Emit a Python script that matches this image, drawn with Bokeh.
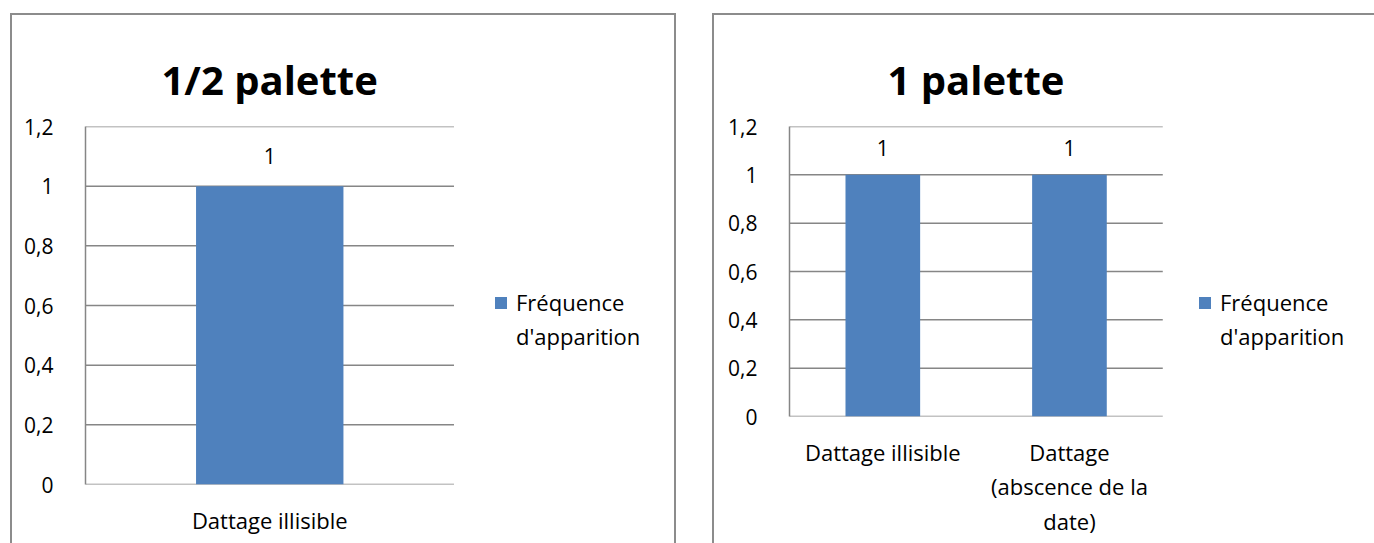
from bokeh.plotting import figure
from bokeh.layouts import row, column
from bokeh.models import (Range1d, FixedTicker, CustomJSTickFormatter,
                          Legend, LegendItem, ColumnDataSource)
from bokeh.embed import file_html
from bokeh.resources import INLINE
from bokeh.core.properties import value

# ---- data ----
title_left = "1/2 palette"
cats_left = ["Dattage illisible"]
vals_left = [1]

title_right = "1 palette"
cats_right = ["Dattage illisible", "Dattage\n(abscence de la\ndate)"]
vals_right = [1, 1]

legend_lines = ["Fréquence", "d'apparition"]
y_ticks = [0, 0.2, 0.4, 0.6, 0.8, 1, 1.2]

BAR = "#4F81BD"
GRID = "#868686"
BORDER = "#8C8C8C"
FONT = "Open Sans"


def make_chart(title, cats, vals, width, height, borders, margin, css,
               plot_px, title_off, label_off, legend_loc):
    bl, br, bt, bb = borders
    n = len(cats)
    frame_w = width - bl - br - 2 * (len(css) - 1)
    # categorical slots on a numeric axis; extra room on the right holds the legend
    x_end = -0.5 + n * frame_w / plot_px
    p = figure(x_range=Range1d(-0.5, x_end), y_range=Range1d(0, 1.2),
               width=width, height=height, output_backend="svg",
               toolbar_location=None, margin=margin,
               min_border_left=bl, min_border_right=br,
               min_border_top=bt, min_border_bottom=bb,
               styles=css)
    p.title.text = title
    p.title.align = "left"
    p.title.offset = title_off
    p.title.text_font = FONT
    p.title.text_font_size = "40px"
    p.title.text_font_style = "bold"
    p.title.text_color = "#000000"
    p.title.standoff = 39
    p.outline_line_color = None
    p.background_fill_color = "white"
    p.border_fill_color = "white"
    p.xgrid.grid_line_color = None
    p.ygrid.grid_line_color = None

    idx = list(range(n))
    # horizontal gridlines across the category area only
    p.segment(x0=[-0.5] * len(y_ticks), x1=[n - 0.5] * len(y_ticks),
              y0=y_ticks, y1=y_ticks, line_color=GRID, line_width=1.5,
              level="underlay")

    src = ColumnDataSource(dict(x=idx, val=vals, lab=[str(v) for v in vals]))
    r = p.vbar(x="x", top="val", width=0.4, source=src, fill_color=BAR,
               line_color=None)
    p.text(x="x", y="val", text="lab", source=src, text_align="center",
           text_baseline="middle", y_offset=label_off,
           text_font=value(FONT), text_font_size="21px", text_color="#000000")
    dummy = p.vbar(x=[], top=[], width=0.4, fill_alpha=0, line_alpha=0)

    # axes
    p.yaxis.ticker = FixedTicker(ticks=y_ticks)
    p.yaxis.formatter = CustomJSTickFormatter(
        code="return tick.toFixed(1).replace(/\\.0$/, '').replace('.', ',');")
    p.xaxis.ticker = FixedTicker(ticks=idx)
    p.xaxis.major_label_overrides = {i: c for i, c in zip(idx, cats)}
    for ax in (p.xaxis[0], p.yaxis[0]):
        ax.major_tick_line_color = None
        ax.minor_tick_line_color = None
        ax.major_label_text_font = FONT
        ax.major_label_text_color = "#000000"
    p.yaxis.major_label_text_font_size = "21px"
    p.xaxis.major_label_text_font_size = "22px"
    p.yaxis.axis_line_color = GRID
    p.yaxis.axis_line_width = 1.5
    p.yaxis.major_label_standoff = 26
    p.xaxis.axis_line_color = None
    p.xaxis.major_label_standoff = 14
    p.xaxis.major_label_text_line_height = 1.15

    legend = Legend(items=[LegendItem(label=legend_lines[0], renderers=[r]),
                           LegendItem(label=legend_lines[1], renderers=[dummy])],
                    location=legend_loc, glyph_width=15, glyph_height=15,
                    label_standoff=8, padding=0, margin=0, spacing=4,
                    border_line_color=None, background_fill_alpha=0,
                    label_text_font=FONT, label_text_font_size="22px",
                    label_text_color="#000000")
    p.add_layout(legend, "center")
    return p


bd = f"2px solid {BORDER}"
css_left = {"border-left": bd, "border-top": bd, "border-right": bd}
css_right = {"border-left": bd, "border-top": bd}

p1 = make_chart(title_left, cats_left, vals_left, 666, 530,
                (73, 0, 111, 61), (13, 0, 0, 10), css_left, 366, 76, -30, (408, 133))
p2 = make_chart(title_right, cats_right, vals_right, 662, 530,
                (75, 0, 111, 129), (13, 0, 0, 36), css_right, 372, 98, -27, (408, 65))

layout = row(column(p1), column(p2))
open("out.html", "w").write(file_html(layout, INLINE))
